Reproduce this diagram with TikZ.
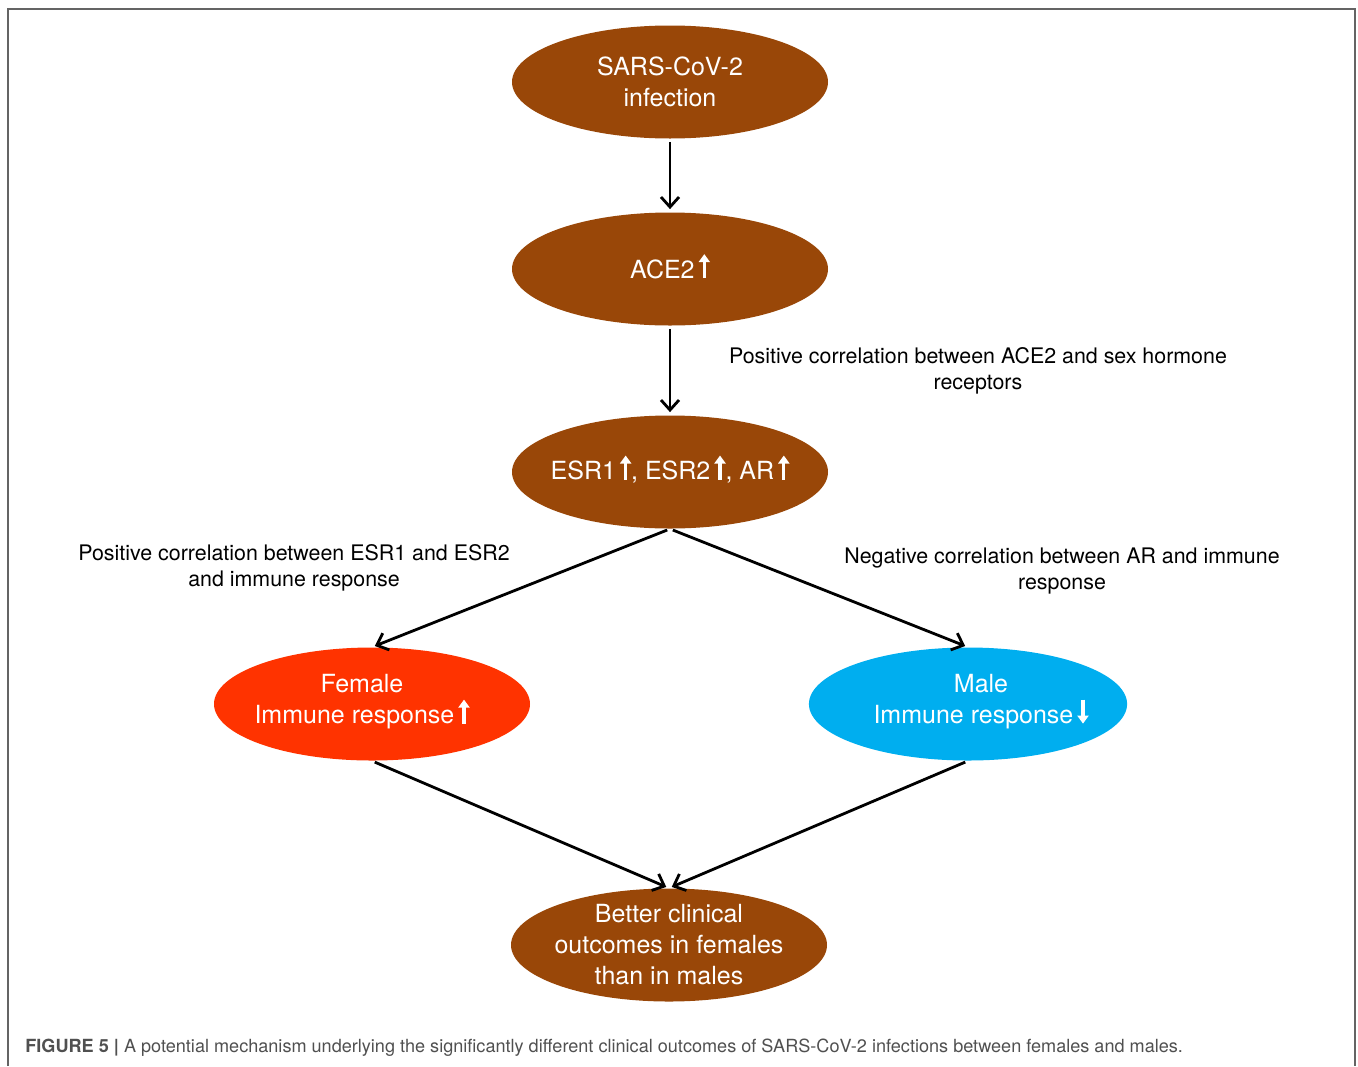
\documentclass[tikz,border=0pt]{standalone}
\usepackage{fontspec}
\setmainfont{TeX Gyre Heros}
\usetikzlibrary{shapes.geometric,arrows.meta}

\definecolor{brownnode}{RGB}{153,71,8}
\definecolor{femalered}{RGB}{255,51,0}
\definecolor{maleblue}{RGB}{0,174,239}
\definecolor{framegray}{RGB}{100,100,100}
\definecolor{captiongray}{RGB}{80,80,80}

% small thick arrows inside the node texts
\newcommand{\upmark}{\smash{\tikz[baseline=0pt]\draw[white,line width=1.6pt,-{Triangle[length=4pt,width=5.5pt]}] (0,0) -- (0,12pt);}}
\newcommand{\downmark}{\smash{\tikz[baseline=0pt]\draw[white,line width=1.6pt,-{Triangle[length=4pt,width=5.5pt]}] (0,12pt) -- (0,0);}}
% extra depth to lift a text a little in its ellipse
\newcommand{\liftup}{\rule[-5pt]{0pt}{0pt}}

\tikzset{
  bubble/.style={ellipse,inner sep=-4pt,minimum width=158pt,minimum height=56.5pt,
    text=white,align=center,font=\fontsize{12.5}{15.5}\selectfont},
  arr/.style={line width=1.4pt,-{Straight Barb[length=5pt,width=9pt,line width=1.4pt]},
    shorten <=1.5pt,shorten >=1.5pt},
  note/.style={align=center,font=\fontsize{10.7}{13}\selectfont}
}

\begin{document}
\begin{tikzpicture}[x=0.5pt,y=0.5pt]
\useasboundingbox (0,0) rectangle (1358,-1066);
% The frame
\draw[framegray,line width=1pt] (8,-1066) -- (8,-9) -- (1355,-9) -- (1355,-1066);

% The ellipses
\node[bubble,fill=brownnode] (sars) at (670,-82) {SARS-CoV-2\\infection};
\node[bubble,fill=brownnode] (ace) at (670,-269) {ACE2\,\upmark};
\node[bubble,fill=brownnode] (esr) at (670,-472) {ESR1\,\upmark, ESR2\,\upmark, AR\,\upmark};
\node[bubble,fill=femalered] (fem) at (372,-704)
  {Female\hspace*{10pt}\\Immune response\,\upmark\hspace*{10pt}\liftup};
\node[bubble,fill=maleblue] (male) at (968,-704)
  {\hspace*{13pt}Male\\\hspace*{13pt}Immune response\,\downmark\liftup};
\node[bubble,fill=brownnode] (better) at (669,-945) {Better clinical\\outcomes in females\\than in males};

% Arrows
\draw[arr] (sars) -- (ace);
\draw[arr] (ace) -- (esr);
\draw[arr] (esr.south) -- (fem.north);
\draw[arr] (esr.south) -- (male.north);
\draw[arr] (fem.south) -- (better.north);
\draw[arr] (male.south) -- (better.north);

% Labels
\node[note] (corace) at (978,-371) {Positive correlation between ACE2 and sex hormone\\receptors};
\node[note] (corfem) at (294,-568) {Positive correlation between ESR1 and ESR2\\and immune response};
\node[note] (cormale) at (1062,-571) {Negative correlation between AR and immune\\response};

% Caption
\node[anchor=west,text=captiongray,font=\fontsize{9.05}{11}\selectfont,inner sep=0pt] (caption) at (25,-1048)
  {\textbf{FIGURE 5 |} A potential mechanism underlying the significantly different clinical outcomes of SARS-CoV-2 infections between females and males.};
\end{tikzpicture}
\end{document}
